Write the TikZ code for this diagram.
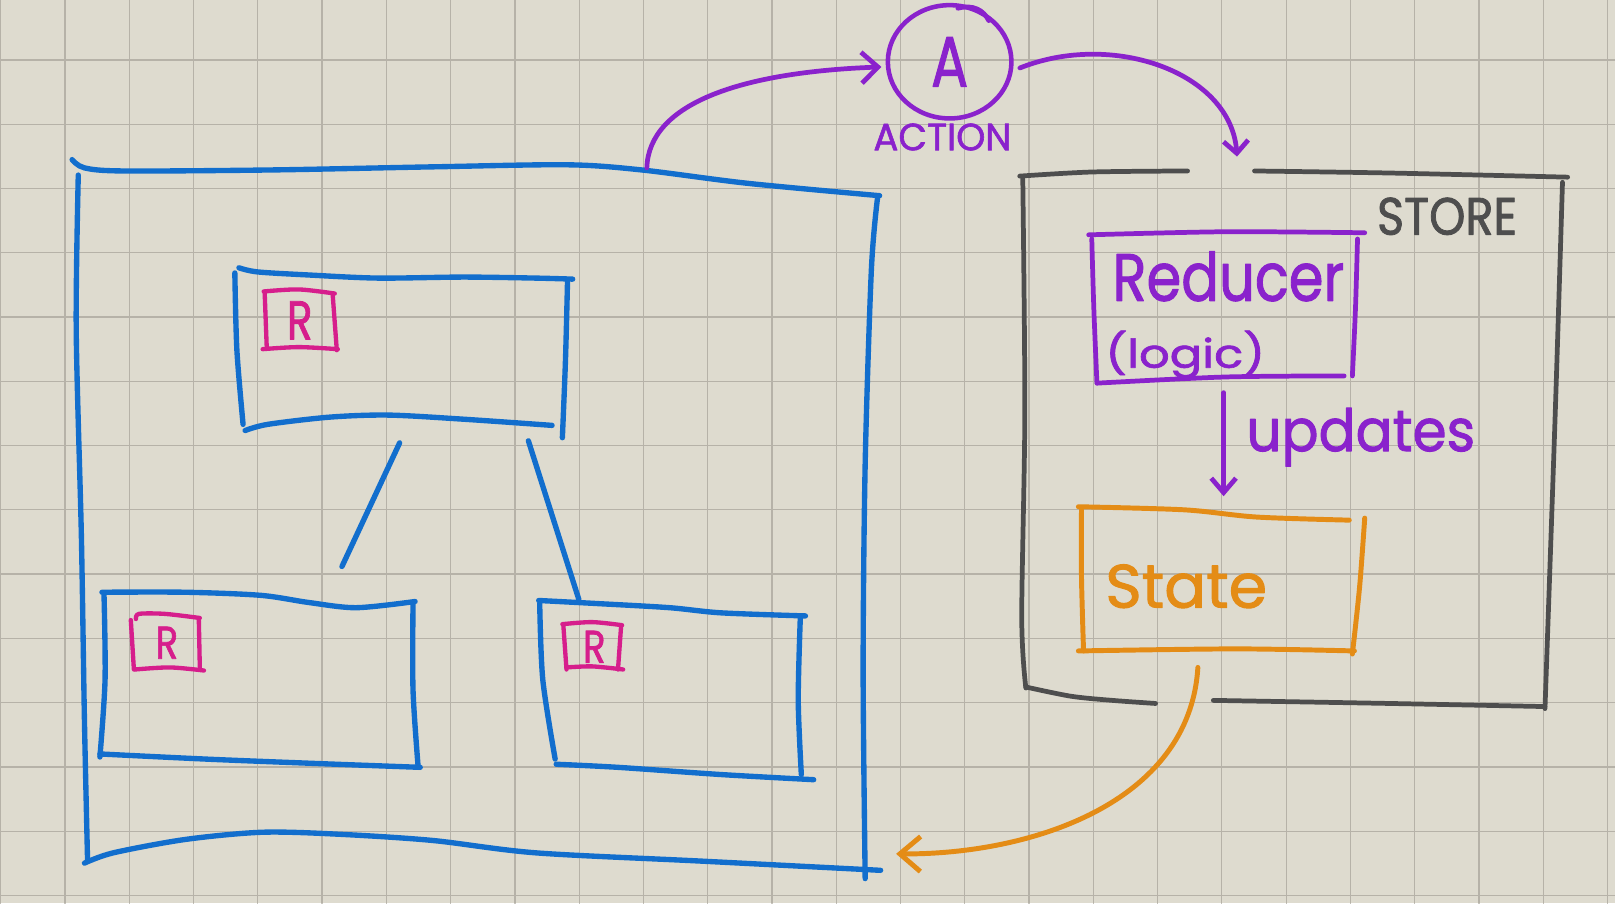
\documentclass[tikz,border=0pt]{standalone}
\usepackage{fontspec}
\setmainfont{Poppins}
\newfontfamily\handfont{Poppins}[FakeBold=1.6]
\usetikzlibrary{arrows.meta,shapes.geometric}
\definecolor{paper}{RGB}{222,219,207}
\definecolor{gridc}{RGB}{182,178,168}
\definecolor{pblue}{RGB}{18,110,205}
\definecolor{ppurple}{RGB}{138,34,204}
\definecolor{ppink}{RGB}{214,30,140}
\definecolor{pgray}{RGB}{78,78,78}
\definecolor{porange}{RGB}{228,140,22}
\begin{document}
\begin{tikzpicture}[x=1pt,y=-1pt,line cap=round,line join=round,
  bluestroke/.style={draw=pblue,line width=5.2pt},
  pinkstroke/.style={draw=ppink,line width=4.2pt},
  graystroke/.style={draw=pgray,line width=4.6pt},
  purplestroke/.style={draw=ppurple,line width=4.6pt},
  orangestroke/.style={draw=porange,line width=4.8pt},
  region/.style={draw=none,inner sep=0pt},
  txt/.style={inner sep=0pt,font=\handfont}]
\fill[paper] (0,0) rectangle (1568,877);
\useasboundingbox (0,0) rectangle (1568,877);
\foreach \i in {0,...,25} \draw[gridc,line width=1.2pt] ({0.7+62.4*\i},0) -- ({0.7+62.4*\i},877);
\foreach \j in {1,...,14} \draw[gridc,line width=1.2pt] (0,{-4.2+62.4*\j}) -- (1568,{-4.2+62.4*\j});

% ---------- regions (named) ----------
\node[region,minimum width=775pt,minimum height=680pt] (app) at (462,505) {};
\node[region,minimum width=320pt,minimum height=150pt] (topcomp) at (390,340) {};
\node[region,minimum width=305pt,minimum height=160pt] (leftcomp) at (252,660) {};
\node[region,minimum width=255pt,minimum height=165pt] (rightcomp) at (652,670) {};
\node[region,minimum width=530pt,minimum height=515pt] (store) at (1255,425) {};
\node[region,minimum width=258pt,minimum height=142pt] (reducer) at (1190,298) {};
\node[region,minimum width=270pt,minimum height=140pt] (state) at (1186,563) {};

% ---------- big app box ----------
\draw[bluestroke] plot[smooth] coordinates {(70,155) (82,163) (120,166) (264,165) (420,162) (551,160) (623,165) (726,178) (854,190)};
\draw[bluestroke] plot[smooth] coordinates {(76,170) (74,320) (79,520) (82,700) (85,835)};
\draw[bluestroke] plot[smooth] coordinates {(852,192) (846,262) (840,450) (838,650) (840,853)};
\draw[bluestroke] plot[smooth] coordinates {(82,838) (110,828) (180,815) (255,808) (330,810) (420,816) (520,828) (680,836) (855,845)};

% ---------- top component ----------
\draw[bluestroke] plot[smooth] coordinates {(232,260) (250,264) (300,267) (367,270) (450,269) (520,270) (556,271)};
\draw[bluestroke] plot[smooth] coordinates {(228,265) (230,340) (236,412)};
\draw[bluestroke] plot[smooth] coordinates {(551,273) (549,350) (546,425)};
\draw[bluestroke] plot[smooth] coordinates {(238,418) (260,412) (320,405) (377,403) (450,407) (536,413)};
\draw[pinkstroke] plot[smooth] coordinates {(256,283) (290,281) (325,285)};
\draw[pinkstroke] (257,285) -- (259,338);
\draw[pinkstroke] (323,286) -- (327,340);
\draw[pinkstroke] plot[smooth] coordinates {(255,339) (290,337) (328,339)};
\node[txt,text=ppink] (r1) at (291,311) {\resizebox{25pt}{37pt}{R}};

% ---------- left child ----------
\draw[bluestroke] plot[smooth] coordinates {(99,575) (180,575) (253,578) (300,585) (346,590) (403,584)};
\draw[bluestroke] plot[smooth] coordinates {(101,578) (102,660) (97,735)};
\draw[bluestroke] plot[smooth] coordinates {(401,586) (401,670) (406,745)};
\draw[bluestroke] plot[smooth] coordinates {(97,732) (200,737) (300,741) (408,745)};
\draw[pinkstroke] plot[smooth] coordinates {(132,601) (135,596) (160,596) (194,600)};
\draw[pinkstroke] (127,602) -- (130,650);
\draw[pinkstroke] (193,600) -- (194,648);
\draw[pinkstroke] plot[smooth] coordinates {(131,650) (165,648) (198,651)};
\node[txt,text=ppink] (r2) at (162,624) {\resizebox{22pt}{31pt}{R}};

% ---------- right child ----------
\draw[bluestroke] plot[smooth] coordinates {(523,583) (580,586) (650,590) (700,595) (782,598)};
\draw[bluestroke] plot[smooth] coordinates {(524,586) (527,660) (539,737)};
\draw[bluestroke] plot[smooth] coordinates {(777,600) (775,680) (778,752)};
\draw[bluestroke] plot[smooth] coordinates {(540,742) (600,745) (700,752) (790,757)};
\draw[pinkstroke] plot[smooth] coordinates {(546,606) (575,604) (604,607)};
\draw[pinkstroke] (547,608) -- (550,650);
\draw[pinkstroke] (603,608) -- (600,650);
\draw[pinkstroke] plot[smooth] coordinates {(550,648) (575,647) (605,650)};
\node[txt,text=ppink] (r3) at (577,628) {\resizebox{22pt}{31pt}{R}};

% ---------- tree connectors ----------
\coordinate (t1) at (388,430);
\coordinate (l1) at (332,550);
\coordinate (t2) at (513,428);
\coordinate (r1in) at (562,582);
\draw[bluestroke] (t1) -- (l1);
\draw[bluestroke] (t2) -- (r1in);

% ---------- action ----------
\node[ellipse,draw=ppurple,line width=4.4pt,minimum width=120pt,minimum height=110pt,inner sep=0pt,text=ppurple,font=\handfont] (action) at (922,60) {\resizebox{36pt}{48pt}{A}};
\draw[purplestroke] (930,8) .. controls (945,4) and (955,10) .. (960,20);
\node[txt,text=ppurple] (actionLbl) at (915,133) {\resizebox{134pt}{26pt}{ACTION}};

\coordinate (appOut) at (628,163);
\draw[purplestroke,-{Straight Barb[length=16pt,width=30pt]}] (appOut) .. controls (630,100) and (720,70) .. ([xshift=-4pt,yshift=-5pt]action.west);
\coordinate (storeIn) at (1201,152);
\draw[purplestroke,-{Straight Barb[length=12pt,width=24pt]}] ([xshift=6pt,yshift=-6pt]action.east) .. controls (1080,30) and (1195,70) .. (storeIn);

% ---------- store ----------
\draw[graystroke] plot[smooth] coordinates {(990,171) (1060,167) (1153,166)};
\draw[graystroke] plot[smooth] coordinates {(1218,166) (1350,168) (1522,172)};
\draw[graystroke] plot[smooth] coordinates {(993,173) (995,400) (992,600) (996,668)};
\draw[graystroke] plot[smooth] coordinates {(1517,177) (1510,400) (1500,688)};
\draw[graystroke] plot[smooth] coordinates {(996,667) (1040,676) (1080,680) (1122,683)};
\draw[graystroke] plot[smooth] coordinates {(1178,680) (1350,683) (1500,686)};
\node[txt,text=pgray] (storeLbl) at (1405,210) {\resizebox{136pt}{36pt}{STORE}};

% ---------- reducer ----------
\draw[purplestroke] plot[smooth] coordinates {(1057,228) (1190,225) (1325,226)};
\draw[purplestroke] plot[smooth] coordinates {(1060,232) (1062,300) (1065,372)};
\draw[purplestroke] plot[smooth] coordinates {(1318,232) (1316,300) (1313,365)};
\draw[purplestroke] plot[smooth] coordinates {(1065,372) (1190,366) (1305,365)};
\node[txt,text=ppurple,anchor=base west] (reducerLbl) at (1080,292) {\resizebox{225pt}{48pt}{Reducer}};
\node[txt,text=ppurple,anchor=base west] (logicLbl) at (1073,357) {\resizebox{155pt}{36pt}{(logic)}};

\draw[purplestroke,-{Straight Barb[length=14pt,width=24pt]},shorten <=12pt,shorten >=11pt] ([xshift=-2pt]reducer.south) -- ([xshift=2pt]state.north);
\node[txt,text=ppurple,anchor=base west] (updLbl) at (1210,438) {\resizebox{222pt}{42pt}{updates}};

% ---------- state ----------
\draw[orangestroke] plot[smooth] coordinates {(1047,492) (1150,495) (1220,502) (1310,505)};
\draw[orangestroke] plot[smooth] coordinates {(1050,495) (1050,560) (1052,632)};
\draw[orangestroke] plot[smooth] coordinates {(1325,503) (1320,570) (1313,635)};
\draw[orangestroke] plot[smooth] coordinates {(1047,632) (1200,630) (1315,632)};
\node[txt,text=porange,anchor=base west] (stateLbl) at (1073,590) {\resizebox{157pt}{42pt}{State}};

\coordinate (stateOut) at (1163,648);
\coordinate (appIn) at (870,829);
\draw[orangestroke,-{Straight Barb[length=20pt,width=34pt]}] (stateOut) .. controls (1155,780) and (1000,830) .. (appIn);
\end{tikzpicture}
\end{document}
